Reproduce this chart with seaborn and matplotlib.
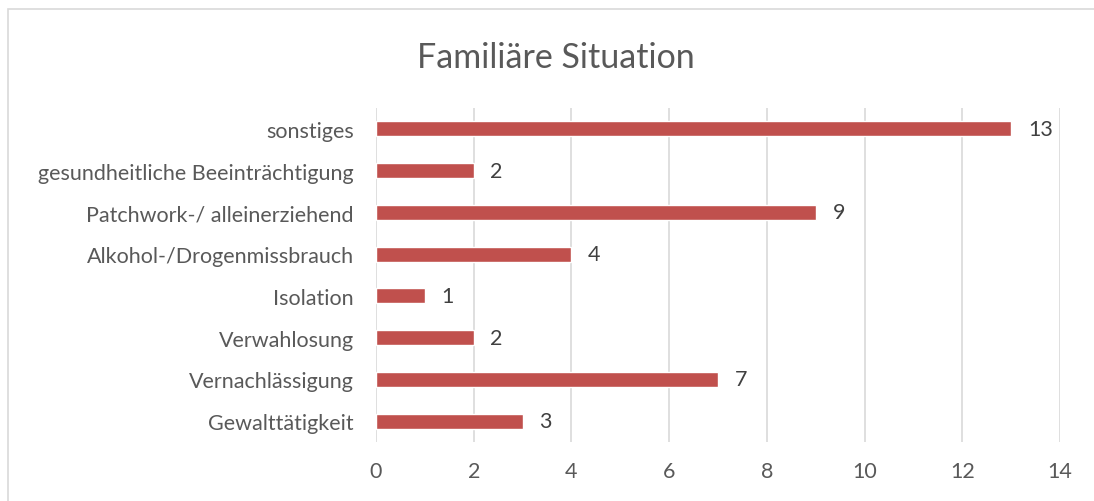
import matplotlib
matplotlib.use('Agg')
import matplotlib.pyplot as plt
import seaborn as sns
import pandas as pd
from matplotlib.patches import Rectangle

kategorien = ['sonstiges', 'gesundheitliche Beeinträchtigung', 'Patchwork-/ alleinerziehend',
              'Alkohol-/Drogenmissbrauch', 'Isolation', 'Verwahlosung',
              'Vernachlässigung', 'Gewalttätigkeit']
anzahl = [13, 2, 9, 4, 1, 2, 7, 3]
x_ticks = [0, 2, 4, 6, 8, 10, 12, 14]

data = pd.DataFrame({'Kategorie': kategorien, 'Anzahl': anzahl})

sns.set_style('white')
plt.rcParams['font.family'] = ['Lato', 'DejaVu Sans']

fig = plt.figure(figsize=(10.94, 5.02), dpi=100)
ax = fig.add_axes([0.3437, 0.1175, 0.6253, 0.6655])

# Rahmen um das Diagramm (rechts und unten abgeschnitten)
fig.patches.append(Rectangle((8 / 1094, -0.05), 1.1, 1 - 10 / 502 + 0.05,
                             transform=fig.transFigure, fill=False,
                             edgecolor='#D9D9D9', linewidth=1.2))

sns.barplot(data=data, y='Kategorie', x='Anzahl', color='#C0504D', width=0.36,
            saturation=1, ax=ax, zorder=3)

for i, v in enumerate(anzahl):
    ax.annotate(str(v), xy=(v, i), xytext=(12, 0), textcoords='offset points',
                va='center', ha='left', fontsize=15.5, color='#404040')

ax.set_xlim(0, 14)
ax.set_ylim(7.5, -0.5)
ax.set_xticks(x_ticks)
ax.grid(axis='x', color='#D9D9D9', linewidth=1.2, zorder=0)
ax.grid(axis='y', visible=False)
for s in ax.spines.values():
    s.set_visible(False)
ax.tick_params(axis='both', length=0, labelsize=15.5, labelcolor='#595959')
ax.tick_params(axis='x', pad=14)
ax.tick_params(axis='y', pad=16)
ax.set_xlabel('')
ax.set_ylabel('')

fig.text(0.508, 0.885, 'Familiäre Situation', ha='center', va='center',
         fontsize=24.5, color='#595959')

plt.savefig('out.png', dpi=100)
